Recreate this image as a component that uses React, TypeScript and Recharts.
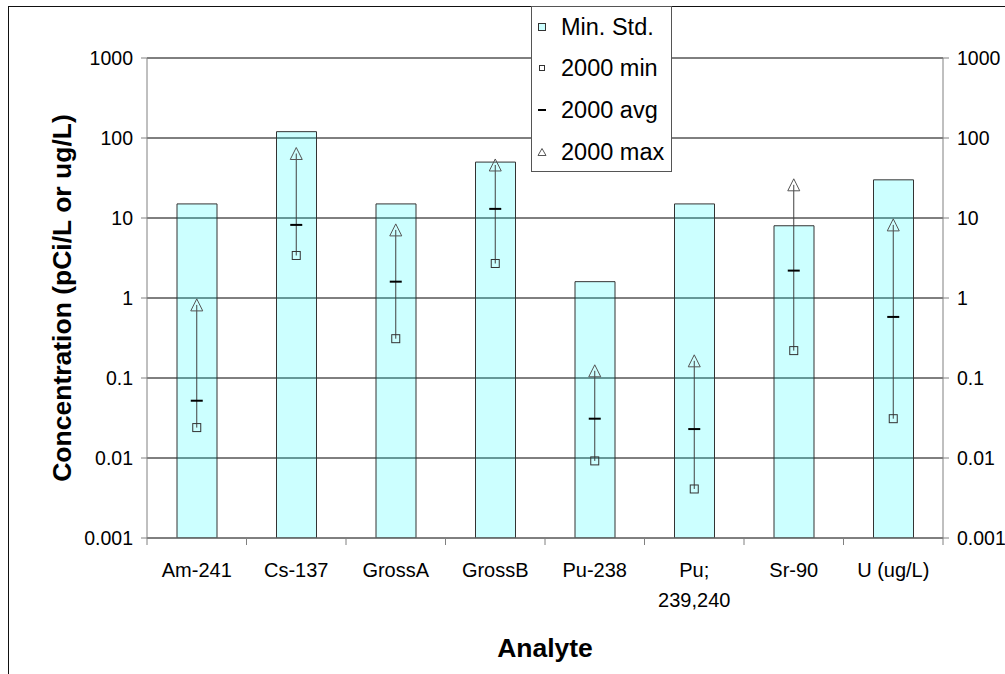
import React from 'react';
import { ComposedChart, Bar, Line, ErrorBar, XAxis, YAxis, CartesianGrid } from 'recharts';

// Analytes along the category axis (newline = wrapped label)
const analytes = ['Am-241', 'Cs-137', 'GrossA', 'GrossB', 'Pu-238', 'Pu;\n239,240', 'Sr-90', 'U (ug/L)'];

// Minimum standard per analyte (pCi/L, uranium in ug/L)
const minStd = [15, 120, 15, 50, 1.6, 15, 8, 30];

// 2000 sampling results
const min2000 = [0.024, 3.4, 0.31, 2.7, 0.0092, 0.0041, 0.22, 0.031];
const avg2000 = [0.052, 8.2, 1.6, 13, 0.031, 0.023, 2.2, 0.58];
const max2000 = [0.82, 64, 7.1, 46, 0.123, 0.164, 26, 8.2];

const logTicks = [0.001, 0.01, 0.1, 1, 10, 100, 1000];

const data = analytes.map((name, i) => ({
  name,
  minStd: minStd[i],
  min: min2000[i],
  avg: avg2000[i],
  max: max2000[i],
  // high-low line drawn as an asymmetric error bar around the average
  spread: [avg2000[i] - min2000[i], max2000[i] - avg2000[i]],
}));

const W = 1005;
const H = 674;
const FONT = '"Liberation Sans", Arial, Helvetica, sans-serif';
const AXIS_GRAY = '#808080';

const SquareDot = (props: any) => {
  const { cx, cy } = props;
  if (cx == null || cy == null) return <g />;
  return <rect x={cx - 4} y={cy - 4} width={8} height={8} fill="none" stroke="#333" strokeWidth={1} />;
};

const DashDot = (props: any) => {
  const { cx, cy } = props;
  if (cx == null || cy == null) return <g />;
  return <line x1={cx - 6} x2={cx + 6} y1={cy} y2={cy} stroke="#000" strokeWidth={2} />;
};

const TriangleDot = (props: any) => {
  const { cx, cy } = props;
  if (cx == null || cy == null) return <g />;
  return (
    <path
      d={`M${cx},${cy - 6} L${cx + 6},${cy + 6} L${cx - 6},${cy + 6} Z`}
      fill="none"
      stroke="#555"
      strokeWidth={1}
    />
  );
};

// Category labels with tick marks between the categories
const AnalyteTick = (props: any) => {
  const { x, y, payload, index, visibleTicksCount } = props;
  const half = payload.offset ?? 0;
  const lines = String(payload.value).split('\n');
  const isLast = index === visibleTicksCount - 1;
  return (
    <g>
      <line x1={x - half} x2={x - half} y1={y} y2={y + 7} stroke={AXIS_GRAY} />
      {isLast && <line x1={x + half} x2={x + half} y1={y} y2={y + 7} stroke={AXIS_GRAY} />}
      <text x={x} y={y + 39} textAnchor="middle" fontSize={20} fontFamily={FONT} fill="#000">
        {lines.map((l, i) => (
          <tspan key={i} x={x} dy={i === 0 ? 0 : 30}>
            {l}
          </tspan>
        ))}
      </text>
    </g>
  );
};

const legendItems = [
  { label: 'Min. Std.', mark: 'bar' },
  { label: '2000 min', mark: 'square' },
  { label: '2000 avg', mark: 'dash' },
  { label: '2000 max', mark: 'triangle' },
];

const LegendMark = ({ mark }: { mark: string }) => (
  <svg width={18} height={18} style={{ display: 'block' }}>
    {mark === 'bar' && <rect x={5.5} y={5.5} width={7} height={7} fill="#CCFFFF" stroke="#333" />}
    {mark === 'square' && <rect x={6.5} y={6.5} width={5} height={5} fill="none" stroke="#333" />}
    {mark === 'dash' && <line x1={5} x2={13} y1={9} y2={9} stroke="#000" strokeWidth={2} />}
    {mark === 'triangle' && <path d="M9,5.5 L13,12.5 L5,12.5 Z" fill="none" stroke="#555" />}
  </svg>
);

const LegendBox = () => (
  <div
    style={{
      position: 'absolute',
      left: 531,
      top: 6,
      width: 141,
      height: 166,
      boxSizing: 'border-box',
      border: '1px solid #555',
      background: '#fff',
      fontFamily: FONT,
      fontSize: 23.5,
      color: '#000',
    }}
  >
    {legendItems.map((item, i) => (
      <div
        key={item.label}
        style={{ height: i === 0 ? 40 : 42, display: 'flex', alignItems: 'center', paddingLeft: 1 }}
      >
        <LegendMark mark={item.mark} />
        <span style={{ marginLeft: 10, whiteSpace: 'nowrap' }}>{item.label}</span>
      </div>
    ))}
  </div>
);

export default function App() {
  return (
    <div style={{ position: 'relative', width: W, height: H, overflow: 'hidden', background: '#fff' }}>
      <style>{'body{margin:0}'}</style>
      <div
        style={{
          position: 'absolute',
          left: 8,
          top: 6,
          width: 1200,
          height: 900,
          border: '1px solid #111',
        }}
      />
      <ComposedChart
        width={W}
        height={H}
        data={data}
        margin={{ top: 58, right: 0, bottom: 0, left: 0 }}
        style={{ fontFamily: FONT }}
      >
        <CartesianGrid yAxisId="left" vertical={false} stroke="#000" strokeDasharray="" />
        <XAxis
          dataKey="name"
          height={136}
          interval={0}
          tickSize={0}
          tickMargin={0}
          tickLine={false}
          stroke={AXIS_GRAY}
          tick={<AnalyteTick />}
          label={{
            content: (p: any) => {
              const vb = p.viewBox;
              return (
                <text
                  x={vb.x + vb.width / 2}
                  y={vb.y + 119}
                  textAnchor="middle"
                  fontSize={26.5}
                  fontWeight="bold"
                  fontFamily={FONT}
                  fill="#000"
                >
                  Analyte
                </text>
              );
            },
          }}
        />
        <YAxis
          yAxisId="left"
          scale="log"
          domain={[0.001, 1000]}
          ticks={logTicks}
          allowDataOverflow
          width={147}
          tickSize={6}
          tickMargin={8}
          stroke={AXIS_GRAY}
          tick={{ fill: '#000', fontSize: 19.5, fontFamily: FONT }}
          tickFormatter={(v: number) => String(v)}
          label={{
            content: (p: any) => {
              const vb = p.viewBox;
              const cx = vb.x + 62;
              const cy = vb.y + vb.height / 2;
              return (
                <text
                  x={cx}
                  y={cy}
                  transform={`rotate(-90 ${cx} ${cy})`}
                  textAnchor="middle"
                  dominantBaseline="central"
                  fontSize={26.5}
                  fontWeight="bold"
                  fontFamily={FONT}
                  fill="#000"
                >
                  Concentration (pCi/L or ug/L)
                </text>
              );
            },
          }}
        />
        <YAxis
          yAxisId="right"
          orientation="right"
          scale="log"
          domain={[0.001, 1000]}
          ticks={logTicks}
          allowDataOverflow
          width={62}
          tickSize={6}
          tickMargin={8}
          stroke={AXIS_GRAY}
          tick={{ fill: '#000', fontSize: 19.5, fontFamily: FONT }}
          tickFormatter={(v: number) => String(v)}
        />
        <Bar
          yAxisId="left"
          dataKey="minStd"
          barSize={40}
          fill="#00FFFF"
          fillOpacity={0.2}
          stroke="#333"
          strokeWidth={1}
          isAnimationActive={false}
        />
        <Line
          yAxisId="left"
          dataKey="avg"
          stroke="none"
          dot={<DashDot />}
          activeDot={false}
          isAnimationActive={false}
        >
          <ErrorBar dataKey="spread" width={0} stroke="#404040" strokeWidth={1} direction="y" />
        </Line>
        <Line
          yAxisId="left"
          dataKey="min"
          stroke="none"
          dot={<SquareDot />}
          activeDot={false}
          isAnimationActive={false}
        />
        <Line
          yAxisId="left"
          dataKey="max"
          stroke="none"
          dot={<TriangleDot />}
          activeDot={false}
          isAnimationActive={false}
        />
      </ComposedChart>
      <LegendBox />
    </div>
  );
}
